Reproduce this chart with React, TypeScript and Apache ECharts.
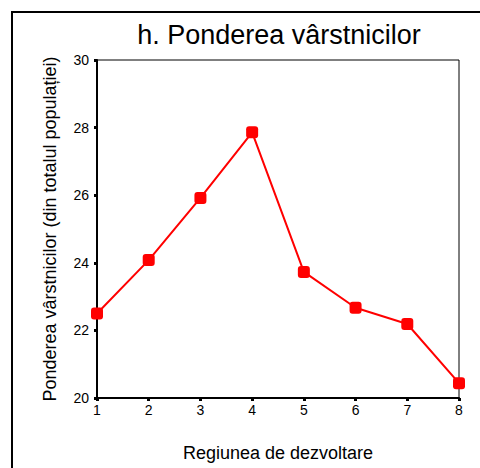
import React, { useEffect, useRef } from "react";
import * as echarts from "echarts";

const regions = [1, 2, 3, 4, 5, 6, 7, 8];
const shares = [22.5, 24.08, 25.92, 27.86, 23.73, 22.67, 22.19, 20.44];
const titleText = "h. Ponderea vârstnicilor";
const yName = "Ponderea vârstnicilor (din totalul populației)";
const xName = "Regiunea de dezvoltare";

export default function App() {
  const ref = useRef<HTMLDivElement>(null);
  useEffect(() => {
    document.body.style.margin = "0";
    const chart = echarts.init(ref.current!, null, { renderer: "svg" });
    const font = "Liberation Sans, Arial, sans-serif";
    chart.setOption({
      animation: false,
      backgroundColor: "#ffffff",
      title: {
        text: titleText,
        left: 274,
        textAlign: "center",
        top: 16,
        textStyle: { fontFamily: font, fontSize: 27, fontWeight: "normal", color: "#000" },
      },
      graphic: [
        {
          type: "rect",
          shape: { x: 12, y: 12, width: 500, height: 500 },
          style: { fill: "none", stroke: "#000", lineWidth: 2 },
          silent: true,
        },
      ],
      grid: {
        left: 97,
        top: 60,
        right: 21,
        bottom: 70,
        outerBoundsMode: "none",
        containLabel: false,
        show: true,
        borderColor: "#000",
        borderWidth: 1,
        backgroundColor: "transparent",
      },
      xAxis: {
        type: "value",
        min: 1,
        max: 8,
        interval: 1,
        name: xName,
        nameLocation: "middle",
        nameGap: 46,
        nameTextStyle: { fontFamily: font, fontSize: 18, color: "#000" },
        axisLine: { show: true, lineStyle: { color: "#000", width: 2 } },
        axisTick: { show: true, length: 3, lineStyle: { color: "#000", width: 3 } },
        axisLabel: { fontFamily: font, fontSize: 14, color: "#000", margin: 5 },
        splitLine: { show: false },
      },
      yAxis: {
        type: "value",
        min: 20,
        max: 30,
        interval: 2,
        name: yName,
        nameLocation: "middle",
        nameGap: 38,
        nameRotate: 90,
        nameTextStyle: { fontFamily: font, fontSize: 18, color: "#000" },
        axisLine: { show: true, lineStyle: { color: "#000", width: 2 } },
        axisTick: { show: true, length: 3, lineStyle: { color: "#000", width: 3 } },
        axisLabel: { fontFamily: font, fontSize: 14, color: "#000", margin: 8 },
        splitLine: { show: false },
      },
      series: [
        {
          type: "line",
          data: regions.map((r, i) => [r, shares[i]]),
          symbol: "roundRect",
          symbolSize: 12,
          showAllSymbol: true,
          lineStyle: { color: "#ff0000", width: 2 },
          itemStyle: { color: "#ff0000", borderWidth: 0 },
          clip: false,
        },
      ],
    });
    return () => chart.dispose();
  }, []);
  return <div ref={ref} style={{ width: 480, height: 468 }} />;
}
